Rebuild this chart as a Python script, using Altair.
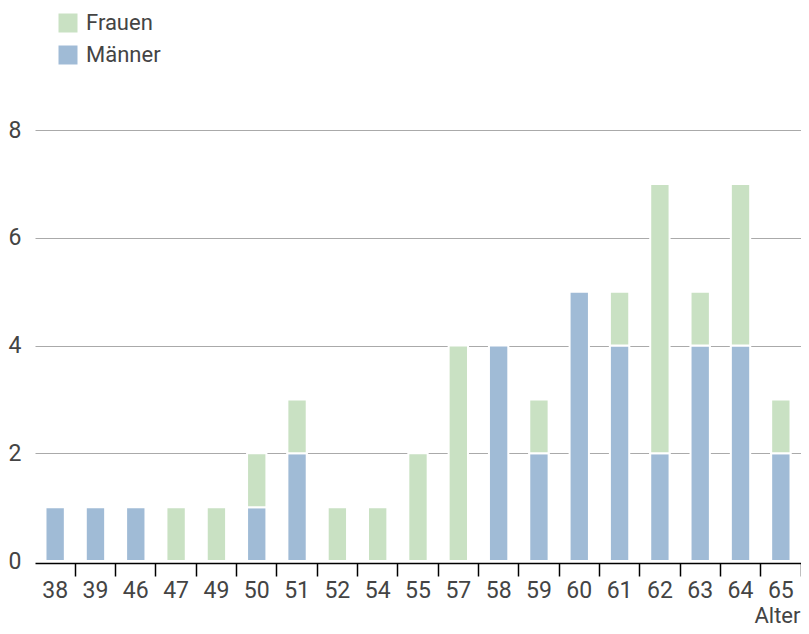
import altair as alt
import pandas as pd

ages = ["38", "39", "46", "47", "49", "50", "51", "52", "54", "55", "57", "58", "59", "60", "61", "62", "63", "64", "65"]
maenner = [1, 1, 1, 0, 0, 1, 2, 0, 0, 0, 0, 4, 2, 5, 4, 2, 4, 4, 2]
frauen = [0, 0, 0, 1, 1, 1, 1, 1, 1, 2, 4, 0, 1, 0, 1, 5, 1, 3, 1]

rows = []
for a, m, f in zip(ages, maenner, frauen):
    if m:
        rows.append({"Alter": a, "Geschlecht": "Männer", "Anzahl": m, "ord": 0})
    if f:
        rows.append({"Alter": a, "Geschlecht": "Frauen", "Anzahl": f, "ord": 1})
df = pd.DataFrame(rows)

FONT = "Roboto"
TXT = "#444444"

chart = alt.Chart(df).mark_bar(
    width=alt.RelativeBandSize(0.48), stroke="white", strokeWidth=2
).encode(
    x=alt.X("Alter:N", sort=ages,
            scale=alt.Scale(paddingInner=0, paddingOuter=0),
            axis=alt.Axis(title="Alter", labelAngle=0, bandPosition=1,
                          offset=2,
                          domainColor="black", domainWidth=1.5,
                          tickColor="black", tickWidth=1.5, tickSize=13,
                          labelFontSize=23, labelColor=TXT, labelFont=FONT,
                          labelBaseline="middle", labelPadding=14,
                          titleFontSize=22, titleColor=TXT, titleFont=FONT,
                          titleFontWeight="normal", titleX=765, titleY=52,
                          titleAlign="right", titleBaseline="middle",
                          grid=False)),
    y=alt.Y("sum(Anzahl):Q",
            scale=alt.Scale(domain=[0, 8], nice=False),
            axis=alt.Axis(title=None, values=[0, 2, 4, 6, 8], domain=False,
                          ticks=False, labelAlign="left", labelPadding=27,
                          labelFontSize=23, labelColor=TXT, labelFont=FONT,
                          gridColor="#aaaaaa", gridWidth=1,
                          gridOpacity={"condition": {"test": "datum.value === 0", "value": 0}, "value": 1})),
    color=alt.Color("Geschlecht:N",
                    scale=alt.Scale(domain=["Frauen", "Männer"],
                                    range=["#c9e1c3", "#a0bbd6"]),
                    legend=alt.Legend(title=None, orient="none",
                                      legendX=22, legendY=-118,
                                      symbolType="square", symbolSize=361,
                                      symbolStrokeWidth=0, symbolOpacity=1,
                                      labelFontSize=22, labelColor=TXT,
                                      labelFont=FONT, rowPadding=10,
                                      labelOffset=7)),
    order=alt.Order("ord:Q"),
).properties(
    width=766, height=431,
    autosize=alt.AutoSizeParams(type="none"),
    padding={"left": 27, "top": 122, "right": 0, "bottom": 65},
).configure_view(stroke=None)

chart.save("out.html", embed_options={"renderer": "svg", "actions": False})
